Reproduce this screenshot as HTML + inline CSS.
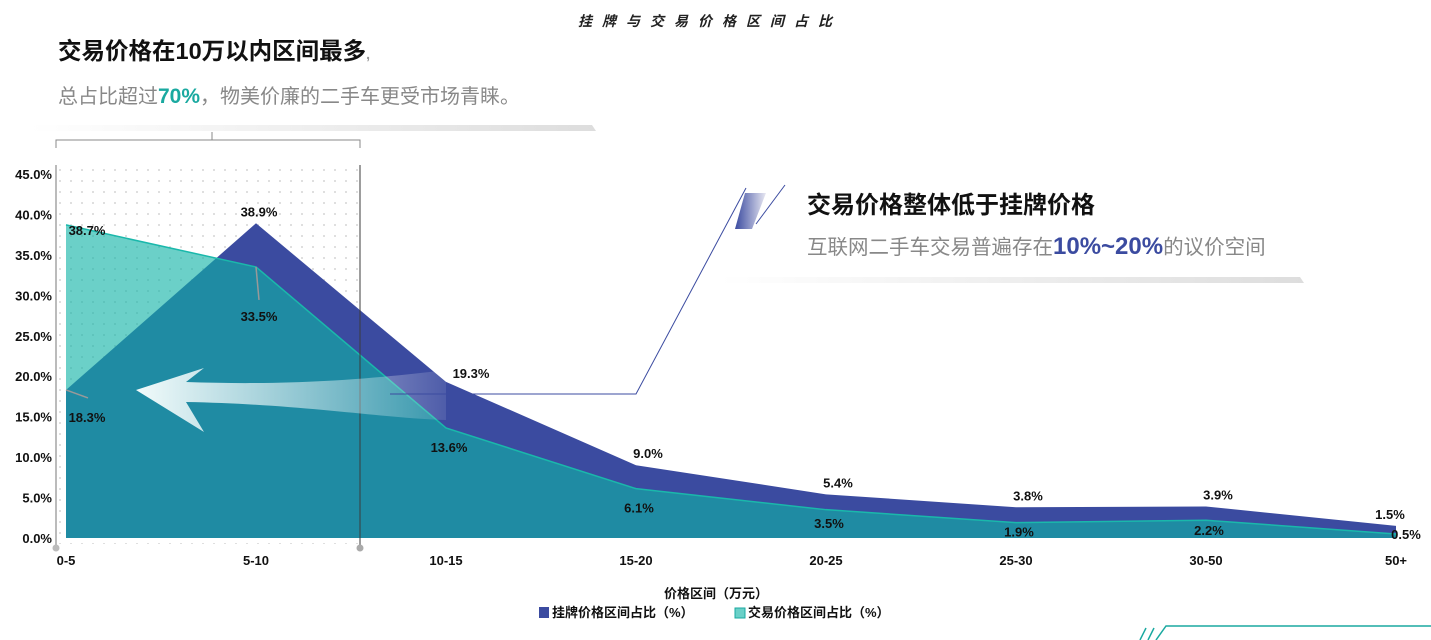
<!DOCTYPE html>
<html><head><meta charset="utf-8">
<style>
body{margin:0;width:1431px;height:640px;background:#fff;overflow:hidden;font-family:"Liberation Sans","Noto Sans CJK SC",sans-serif;}
svg{position:absolute;left:0;top:0}
text{font-family:"Liberation Sans","Noto Sans CJK SC",sans-serif}
</style></head>
<body>
<svg id="c" width="1431" height="640">
<defs>
<linearGradient id="shadow" x1="0" x2="1"><stop offset="0" stop-color="#fff"/><stop offset="1" stop-color="#ddd"/></linearGradient>
<linearGradient id="arrowg" x1="0" x2="1"><stop offset="0" stop-color="#f2fbfb"/><stop offset="1" stop-color="#ffffff" stop-opacity="0.1"/></linearGradient>
<linearGradient id="slash" x1="0" x2="1" y1="0" y2="0"><stop offset="0" stop-color="#3b4ba0"/><stop offset="1" stop-color="#e8e8f2"/></linearGradient>
<pattern id="dots" width="11" height="11" patternUnits="userSpaceOnUse"><circle cx="5" cy="5" r="0.9" fill="#c8c8c8"/></pattern>
</defs>
<text x="710" y="26" font-size="14" font-style="italic" font-weight="bold" text-anchor="middle" letter-spacing="10" fill="#222">挂牌与交易价格区间占比</text>
<text x="58" y="59" font-size="23.5" font-weight="bold" fill="#111">交易价格在10万以内区间最多<tspan fill="#999" font-size="14">,</tspan></text>
<text x="58" y="103" font-size="20" fill="#888">总占比超过<tspan fill="#1aa9a0" font-weight="bold" font-size="21">70%</tspan>，物美价廉的二手车更受市场青睐。</text>
<polygon points="30,125 592,125 596,131 30,131" fill="url(#shadow)"/>
<path d="M56,148 V140 H360 V148 M212,140 V132" fill="none" stroke="#888" stroke-width="1"/>
<rect x="58" y="168" width="302" height="376" fill="url(#dots)"/>
<g id="plot"></g>
<line x1="56" y1="165" x2="56" y2="548" stroke="#bbb" stroke-width="2"/>
<line x1="360" y1="165" x2="360" y2="548" stroke="rgba(60,60,60,0.5)" stroke-width="2"/>
<circle cx="56" cy="548" r="3.5" fill="#bbb"/><circle cx="360" cy="548" r="3.5" fill="#aaa"/>
<path d="M136,390 L204,368 L186,382 C300,386 380,378 446,370 L446,420 C380,418 300,404 186,402 L204,432 Z" fill="url(#arrowg)"/>
<polyline points="390,394 636,394 746,188" fill="none" stroke="#3b4ba0" stroke-width="1"/>
<polygon points="745,193 766,193 752,229 735,229" fill="url(#slash)"/>
<line x1="785" y1="185" x2="756" y2="224" stroke="#3b4ba0" stroke-width="1"/>
<text x="807" y="213" font-size="24" font-weight="bold" fill="#111">交易价格整体低于挂牌价格</text>
<text x="807" y="254" font-size="20.5" fill="#888">互联网二手车交易普遍存在<tspan fill="#3b4ba0" font-weight="bold" font-size="24">10%~20%</tspan>的议价空间</text>
<polygon points="720,277 1300,277 1304,283 720,283" fill="url(#shadow)"/>
<text x="716" y="598" font-size="13" font-weight="bold" text-anchor="middle" fill="#111">价格区间（万元）</text>
<g><rect x="539" y="607" width="10" height="11" fill="#3b4ba0"/><text x="552" y="617" font-size="13" font-weight="bold" fill="#111">挂牌价格区间占比（%）</text></g>
<g><rect x="735" y="608" width="10" height="10" fill="#6ad0c8" stroke="#1aa9a0"/><text x="748" y="617" font-size="13" font-weight="bold" fill="#111">交易价格区间占比（%）</text></g>
<path d="M1140,640 L1146,628 M1148,640 L1154,628 M1156,640 L1166,626 H1431" fill="none" stroke="#1aa9a0" stroke-width="1.5"/>
</svg>
<script>
const categories=["0-5","5-10","10-15","15-20","20-25","25-30","30-50","50+"];
const listing=[18.3,38.9,19.3,9.0,5.4,3.8,3.9,1.5];
const deal=[38.7,33.5,13.6,6.1,3.5,1.9,2.2,0.5];
const yTicks=[0,5,10,15,20,25,30,35,40,45];
const NS="http://www.w3.org/2000/svg";
const X=i=>66+i*190;
const Y=v=>538-v*8.09;
const g=document.getElementById('plot');
function mk(t,a,parent){const e=document.createElementNS(NS,t);for(const k in a)e.setAttribute(k,a[k]);(parent||g).appendChild(e);return e;}
yTicks.forEach(t=>{
  const e=mk('text',{x:52,y:Y(t)+5,'font-size':13,'font-weight':'bold','text-anchor':'end',fill:'#111'});
  e.textContent=t.toFixed(1)+'%';
  
  
});
categories.forEach((c,i)=>{
  const e=mk('text',{x:X(i),y:565,'font-size':13,'font-weight':'bold','text-anchor':'middle',fill:'#111'});
  e.textContent=c;
  
  
});
function area(vals){return 'M'+X(0)+','+Y(0)+' '+vals.map((v,i)=>'L'+X(i)+','+Y(v)).join(' ')+' L'+X(vals.length-1)+','+Y(0)+'Z';}
const a1=mk('path',{d:area(listing),fill:'#3b4ba0'});


const a2=mk('path',{d:area(deal),fill:'rgba(14,179,166,0.617)'});


const l2=mk('polyline',{points:deal.map((v,i)=>X(i)+','+Y(v)).join(' '),fill:'none',stroke:'#1ab8ab','stroke-width':1.5});


// leader lines
const ld1=mk('line',{x1:X(0),y1:Y(listing[0]),x2:X(0)+22,y2:Y(listing[0])+8,stroke:'#999','stroke-width':1.5});


const ld2=mk('line',{x1:X(1),y1:Y(deal[1]),x2:X(1)+3,y2:Y(deal[1])+33,stroke:'#999','stroke-width':1.5});


listing.forEach((v,i)=>{
  let x=X(i)+(i==0?21:(i==1?3:(i==7?-6:12))),y=Y(v)-7;
  if(i==0){y=Y(v)+32;}
  if(i==2){x=X(i)+25;y=Y(v)-4;}
  const e=mk('text',{x:x,y:y,'font-size':13,'font-weight':'bold','text-anchor':'middle',fill:'#111'});
  e.textContent=v.toFixed(1)+'%';
  
  
});
deal.forEach((v,i)=>{
  let x=X(i)+(i==0?21:3),y=Y(v)+Math.min(24,8+v*3);
  if(i==0)y=Y(v)+10;
  if(i==1)y=Y(v)+54;
  if(i==7){x=X(i)+10;y=Y(v)+5;}
  const e=mk('text',{x:x,y:y,'font-size':13,'font-weight':'bold','text-anchor':'middle',fill:'#111'});
  e.textContent=v.toFixed(1)+'%';
  
  
});
</script>
</body></html>
